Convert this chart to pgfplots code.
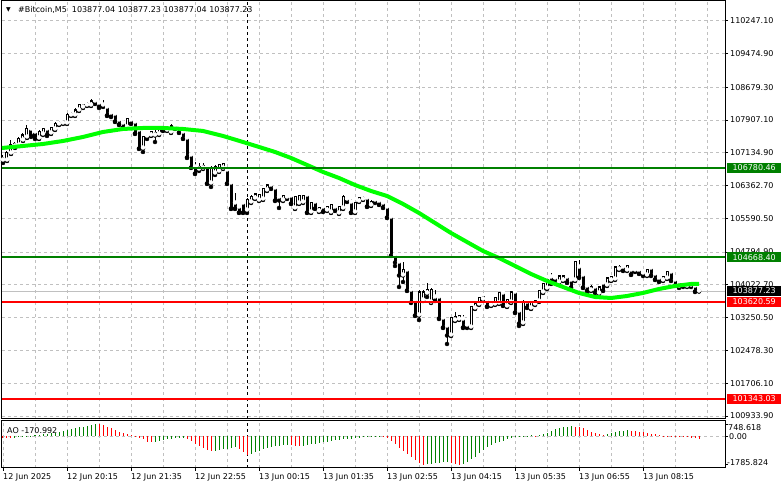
\documentclass[border=0pt]{standalone}
\usepackage{fontspec}
\setmainfont{DejaVu Sans}
\usepackage{pgfplots}
\pgfplotsset{compat=1.18}
\usepackage{pgfplotstable}
\definecolor{mtgreen}{HTML}{008000}
\definecolor{mtred}{HTML}{FF0000}
\definecolor{mtlime}{HTML}{00FF00}
\definecolor{mtgrid}{HTML}{C0C0C0}
\newcommand{\lf}{\fontsize{8}{9}\selectfont}

\pgfplotstableread{
i o h l c
0 106964 107082 106894 107012
1 106964 107176 106941 107129
2 107129 107436 107106 107318
3 107294 107388 107247 107341
4 107318 107506 107294 107459
5 107436 107601 107412 107553
6 107506 107789 107483 107695
7 107695 107742 107506 107553
8 107624 107671 107459 107506
9 107483 107671 107459 107624
10 107577 107718 107553 107695
11 107695 107718 107530 107577
12 107601 107742 107577 107718
13 107695 107860 107671 107813
14 107813 107883 107789 107836
15 107836 107907 107813 107860
16 107836 108072 107813 108025
17 108025 108095 108001 108048
18 108025 108190 108001 108142
19 108142 108284 108119 108260
20 108213 108284 108190 108260
21 108260 108331 108237 108284
22 108260 108402 108237 108354
23 108354 108378 108284 108307
24 108307 108354 108190 108237
25 108260 108378 108213 108237
26 108213 108237 108001 108025
27 108072 108095 107977 108001
28 108048 108072 107860 107883
29 107907 107930 107789 107813
30 107836 107860 107718 107742
31 107742 107954 107718 107930
32 107907 107954 107813 107836
33 107860 107883 107577 107601
34 107671 107695 107224 107247
35 107247 107530 107153 107506
36 107530 107577 107459 107506
37 107553 107648 107530 107624
38 107553 107671 107388 107601
39 107577 107742 107553 107695
40 107718 107789 107648 107671
41 107671 107765 107648 107718
42 107624 107813 107601 107765
43 107765 107813 107695 107742
44 107742 107765 107601 107624
45 107624 107648 107459 107483
46 107483 107506 107012 107035
47 107082 107106 106776 106799
48 106799 106917 106635 106658
49 106752 106894 106705 106799
50 106776 106894 106752 106823
51 106799 106847 106399 106423
52 106423 106823 106328 106776
53 106658 106847 106611 106799
54 106705 106870 106682 106847
55 106776 106894 106752 106870
56 106729 106776 106399 106423
57 106423 106446 105810 105834
58 105951 106187 105810 105834
59 105857 105904 105716 105739
60 105951 105998 105716 105739
61 105786 106069 105716 106022
62 105975 106140 105951 106093
63 106069 106187 106046 106163
64 106022 106163 105998 106140
65 106046 106305 106022 106281
66 106258 106399 106234 106375
67 106375 106399 106281 106305
68 106305 106328 105998 106022
69 106093 106116 105834 106022
70 106022 106140 105998 106116
71 106093 106116 106046 106069
72 106116 106140 105928 105951
73 105834 106116 105810 106093
74 105951 106140 105928 106116
75 105975 106140 105951 106116
76 106140 106163 105716 105739
77 105739 105975 105716 105951
78 105975 105998 105810 105834
79 105763 105857 105739 105834
80 105857 105881 105739 105763
81 105786 105881 105763 105857
82 105739 105928 105716 105904
83 105857 105881 105763 105786
84 105716 105881 105692 105857
85 105834 106140 105810 106093
86 106046 106093 105975 105998
87 105975 106046 105716 105739
88 105739 105975 105716 105951
89 105998 106093 105975 106069
90 106046 106116 106022 106069
91 106069 106093 105857 105881
92 105904 106022 105881 105975
93 106022 106046 105951 105998
94 105998 106022 105904 105928
95 105951 105975 105834 105857
96 105857 105881 105598 105621
97 105621 105645 104703 104726
98 104726 104773 104467 104561
99 104561 104585 103972 104255
100 104255 104561 104090 104373
101 104373 104420 103878 103902
102 103902 103972 103595 103619
103 103666 103690 103289 103313
104 103313 103902 103195 103854
105 103666 103902 103642 103854
106 103831 104067 103737 103902
107 103619 103949 103595 103902
108 103737 103902 103642 103666
109 103737 103760 103218 103242
110 103242 103265 103006 103030
111 103053 103077 102629 102841
112 102841 103265 102818 103242
113 103195 103383 103171 103265
114 103218 103313 103195 103289
115 103218 103313 103006 103030
116 103077 103124 103006 103030
117 103030 103525 103006 103501
118 103478 103619 103454 103595
119 103572 103737 103548 103713
120 103690 103760 103666 103737
121 103666 103690 103501 103525
122 103548 103619 103525 103595
123 103572 103737 103548 103713
124 103595 103854 103572 103831
125 103831 103854 103525 103548
126 103525 103690 103501 103666
127 103619 103878 103595 103854
128 103854 103878 103360 103383
129 103407 103430 103053 103124
130 103124 103666 103101 103619
131 103619 103666 103478 103501
132 103478 103642 103454 103619
133 103572 103666 103548 103642
134 103642 103902 103619 103878
135 103854 104067 103831 104043
136 103949 104161 103925 104137
137 104208 104302 104043 104067
138 104184 104231 104114 104137
139 104090 104255 104067 104231
140 104137 104255 104114 104231
141 104208 104231 104067 104090
142 104137 104161 103949 103972
143 104137 104585 104114 104561
144 104443 104608 104184 104208
145 104255 104279 103949 103972
146 103996 104019 103831 103902
147 103902 104019 103878 103972
148 103972 103996 103831 103854
149 103831 103996 103807 103972
150 104067 104090 103878 103902
151 104019 104208 103996 104184
152 104137 104231 104114 104208
153 104161 104467 104137 104443
154 104396 104491 104373 104443
155 104443 104467 104349 104373
156 104373 104491 104349 104467
157 104373 104396 104255 104279
158 104373 104396 104326 104349
159 104373 104396 104279 104302
160 104302 104326 104231 104255
161 104255 104396 104231 104373
162 104420 104443 104231 104255
163 104279 104302 104137 104161
164 104184 104208 104090 104114
165 104137 104231 104114 104208
166 104184 104349 104161 104326
167 104326 104349 104114 104137
168 104137 104161 103996 104019
169 103996 104067 103949 104043
170 104043 104067 103972 104019
171 103996 104067 103972 104043
172 104019 104043 103972 103996
173 103996 104019 103854 103878
174 103877.04 103877.23 103877.04 103877.23
}\candles

\begin{document}
\begin{tikzpicture}[x=1pt,y=1pt]
\fill[white] (0,0) rectangle (781,489);
\path[use as bounding box] (0,0) rectangle (781,489);

% ---------------- main price panel ----------------
\begin{axis}[
  at={(2pt,70pt)}, anchor=south west, scale only axis,
  width=723pt, height=418pt,
  xmin=-0.25, xmax=180.5, ymin=100862, ymax=110710,
  scaled x ticks=false, scaled y ticks=false,
  axis line style={black, line width=1pt},
  clip mode=individual,
  xtick={8,16,...,176}, xticklabels={}, xtick style={draw=none},
  ytick={100933.90,101706.10,102478.30,103250.50,104022.70,104794.90,105590.50,106362.70,107134.90,107907.10,108679.30,109474.90,110247.10},
  yticklabels={100933.90,101706.10,102478.30,103250.50,104022.70,104794.90,105590.50,106362.70,107134.90,107907.10,108679.30,109474.90,110247.10},
  ytick pos=right, yticklabel pos=right,
  tick align=outside, major tick length=3pt,
  ytick style={black, line width=0.8pt},
  yticklabel style={font=\lf, anchor=west, inner sep=0pt, xshift=2pt},
  xmajorgrids, ymajorgrids,
  major grid style={mtgrid, line width=0.8pt, dash pattern=on 3pt off 3pt},
]
% day separator
\draw[black, line width=1pt, dash pattern=on 3pt off 3pt] (axis cs:61,100862) -- (axis cs:61,110710);
% bid line
\addplot[mtgrid, line width=1pt, forget plot] coordinates {(-0.25,103877.23) (180.5,103877.23)};
% wicks
\addplot[black, only marks, mark=none,
  error bars/.cd, y dir=plus, y explicit, error mark=none,
  error bar style={draw=black, line width=1pt}]
  table[x=i, y=l, y error expr=\thisrow{h}-\thisrow{l}] {\candles};
% bodies (outer black)
\addplot[black, only marks, mark=none,
  error bars/.cd, y dir=plus, y explicit, error mark=none,
  error bar style={draw=black, line width=3pt}]
  table[x=i, y expr={min(\thisrow{o},\thisrow{c})-12}, y error expr={abs(\thisrow{c}-\thisrow{o})+24}] {\candles};
% bodies (white inside for bullish)
\addplot[white, only marks, mark=none,
  error bars/.cd, y dir=plus, y explicit, error mark=none,
  error bar style={draw=white, line width=1pt}]
  table[x=i, y expr={\thisrow{o}+12}, y error expr={max(\thisrow{c}-\thisrow{o}-24,0)}] {\candles};
% moving average
\addplot[mtlime, line width=4pt, line join=round] coordinates {
(-0.25,107247) (5,107294) (10,107341) (15,107412) (20,107506) (25,107624) (30,107695)
(35,107718) (40,107718) (45,107695) (50,107648) (55,107530) (60,107388) (64,107271)
(68,107153) (72,107012) (76,106847) (80,106682) (84,106540) (88,106375) (92,106234)
(96,106116) (100,105928) (104,105716) (108,105480) (112,105244) (116,105032) (120,104820)
(124,104655) (128,104467) (132,104279) (136,104114) (140,103972) (144,103831) (148,103737)
(152,103713) (156,103760) (160,103831) (164,103925) (168,103996) (172,104043) (174,104043)};
% levels
\addplot[mtgreen, line width=2pt] coordinates {(-0.25,106780.46) (180.5,106780.46)};
\addplot[mtgreen, line width=2pt] coordinates {(-0.25,104668.40) (180.5,104668.40)};
\addplot[mtred, line width=2pt] coordinates {(-0.25,103620.59) (180.5,103620.59)};
\addplot[mtred, line width=2pt] coordinates {(-0.25,101343.03) (180.5,101343.03)};
% price boxes
\tikzset{pbox/.style={anchor=west, minimum width=54pt, minimum height=10pt, inner sep=0pt, text=white, font=\lf}}
\node[pbox, fill=mtgreen] at ([xshift=2pt]axis cs:180.5,106780.46) {106780.46};
\node[pbox, fill=mtgreen] at ([xshift=2pt]axis cs:180.5,104668.40) {104668.40};
\node[pbox, fill=black]   at ([xshift=2pt]axis cs:180.5,103877.23) {103877.23};
\node[pbox, fill=mtred]   at ([xshift=2pt]axis cs:180.5,103620.59) {103620.59};
\node[pbox, fill=mtred]   at ([xshift=2pt]axis cs:180.5,101343.03) {101343.03};
\end{axis}

% ---------------- AO panel ----------------
\begin{axis}[
  at={(2pt,21pt)}, anchor=south west, scale only axis,
  width=723pt, height=47pt,
  xmin=-0.25, xmax=180.5, ymin=-1984, ymax=930,
  scaled x ticks=false, scaled y ticks=false,
  axis line style={black, line width=1pt},
  clip mode=individual,
  xtick={0,16,...,160},
  xticklabels={12 Jun 2025,12 Jun 20:15,12 Jun 21:35,12 Jun 22:55,13 Jun 00:15,13 Jun 01:35,13 Jun 02:55,13 Jun 04:15,13 Jun 05:35,13 Jun 06:55,13 Jun 08:15},
  minor xtick={8,24,...,176},
  xtick pos=bottom, xticklabel pos=bottom,
  tick align=outside, major tick length=3pt, minor tick length=0pt,
  xtick style={black, line width=0.8pt}, ytick style={black, line width=0.8pt},
  xticklabel style={font=\lf, anchor=north west, inner sep=0pt, yshift=-2pt},
  ytick={-1785.824,748.618}, yticklabels={,},
  extra y ticks={0}, extra y tick labels={}, extra y tick style={ymajorgrids=true},
  ytick pos=right, yticklabel pos=right,
  xmajorgrids, xminorgrids,
  major grid style={mtgrid, line width=0.8pt, dash pattern=on 3pt off 3pt},
  minor grid style={mtgrid, line width=0.8pt, dash pattern=on 3pt off 3pt},
]
\draw[black, line width=1pt, dash pattern=on 3pt off 3pt] (axis cs:61,-1984) -- (axis cs:61,930);
\addplot[ycomb, mtgreen, line width=1pt, mark=none] coordinates {
(3,-124)(4,-93)(5,-62)(6,-31)(7,12)(8,31)(9,62)(10,93)(11,124)(12,155)(13,186)(14,248)(15,310)(16,341)(17,415)(18,477)(19,539)(20,577)(21,620)(22,663)(23,748.618)
(38,-372)(39,-310)(40,-248)(41,-205)(42,-167)(43,-143)(44,-124)(45,-112)
(53,-930)(54,-868)(55,-825)(56,-787)(57,-744)(58,-713)
(62,-1116)(63,-1023)(64,-930)(65,-837)(66,-744)(67,-682)(68,-639)(69,-601)(70,-577)(71,-558)
(75,-601)(76,-558)(77,-515)(78,-477)(79,-434)(80,-391)(81,-353)(82,-310)(83,-267)(84,-229)(85,-205)(86,-186)(87,-167)(88,-143)(89,-112)(90,-81)(91,-62)(92,-43)(93,-31)(94,-19)
(106,-1767)(107,-1736)(108,-1693)(109,-1655)(110,-1612)(111,-1593)
(115,-1736)(116,-1593)(117,-1426)(118,-1283)(119,-1073)(120,-868)(121,-701)(122,-558)(123,-453)(124,-372)(125,-291)(126,-205)(127,-143)(128,-81)(129,-43)(130,-19)(131,19)(132,31)
(134,43)(135,124)(136,205)(137,329)(138,415)(139,477)(140,539)(141,577)(142,601)
(151,105)(152,167)(153,229)(154,291)(155,329)(156,353)};
\addplot[ycomb, mtred, line width=1pt, mark=none] coordinates {
(0,-124)(1,-143)(2,-155)
(24,713)(25,651)(26,577)(27,477)(28,372)(29,248)(30,167)(31,105)(32,43)(33,12)(34,-124)(35,-205)(36,-353)(37,-391)
(46,-186)(47,-341)(48,-496)(49,-620)(50,-744)(51,-868)(52,-961)
(59,-806)(60,-992)(61,-1178)
(72,-577)(73,-601)(74,-620)
(95,-50)(96,-143)(97,-291)(98,-496)(99,-744)(100,-930)(101,-1116)(102,-1302)(103,-1488)(104,-1674)(105,-1785.824)
(112,-1674)(113,-1736)(114,-1779)
(133,19)
(143,577)(144,558)(145,477)(146,372)(147,267)(148,167)(149,105)(150,81)
(157,329)(158,310)(159,267)(160,229)(161,186)(162,143)(163,105)(164,62)(165,19)(166,6)(167,-6)(168,-19)(169,-43)(170,-62)(171,-93)(172,-124)(173,-143)(174,-170.992)};
\node[font=\lf, anchor=west, inner sep=0pt] at ([xshift=5pt]rel axis cs:0,0.8) {AO -170.992};
\node[font=\lf, anchor=west, inner sep=0pt] at ([xshift=3pt,yshift=-4pt]axis cs:180.5,748.618) {748.618};
\node[font=\lf, anchor=west, inner sep=0pt] at ([xshift=4pt,yshift=-0.5pt]axis cs:180.5,0) {0.00};
\node[font=\lf, anchor=west, inner sep=0pt] at ([xshift=2pt,yshift=2.5pt]axis cs:180.5,-1785.824) {-1785.824};
\end{axis}

% title
\node[font=\fontsize{6}{7}\selectfont, anchor=west, inner sep=0pt] at (6,479) {▼};
\node[font=\lf, anchor=west, inner sep=0pt] at (18,479) {\#Bitcoin,M5\ \ 103877.04 103877.23 103877.04 103877.23};
\end{tikzpicture}
\end{document}
